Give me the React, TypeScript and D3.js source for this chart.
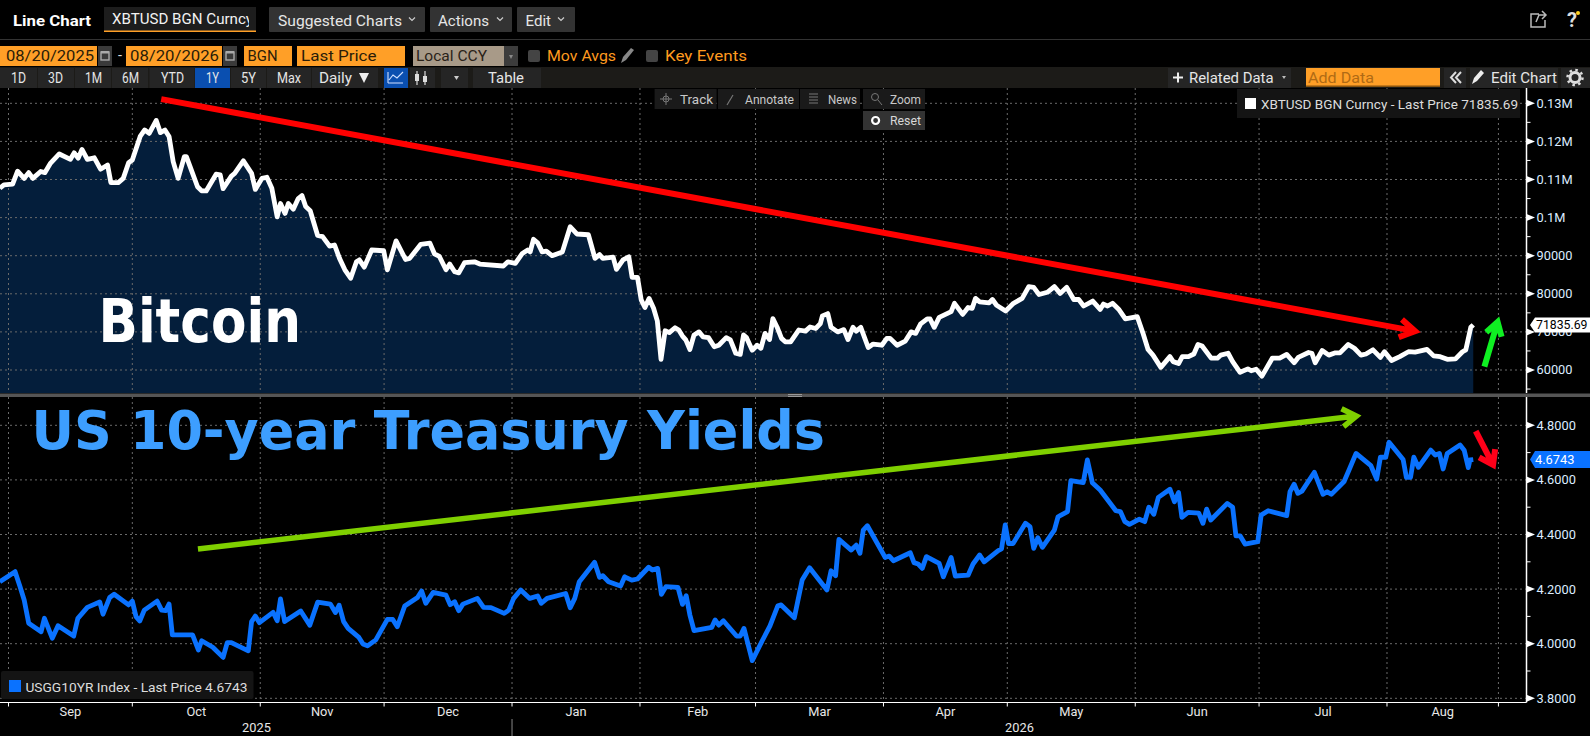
import React from 'react';
import * as d3 from 'd3';

// Days counted from 1 Sep 2025
const btcPoints: [number, number][] = [
  [-2.1,107.7],[-1.1,108.6],[1,108.8],[2.2,112.2],[3.8,110.3],[4.9,111.8],[5.9,110.3],[7.8,112.1],[8.8,111.8],[10.2,114.3],[12.3,116.7],[15,115.3],[15.9,117],[16.9,115.6],[17.8,117.9],[19.1,115.3],[20.8,115.7],[22.3,112.7],[24,113.8],[24.8,109.2],[26.6,109.2],[27.8,110.3],[29.1,114.4],[30,115.1],[31.9,121.3],[33,123],[34.1,122.1],[35.8,125.5],[36.8,122.3],[37.9,123],[38.9,121.3],[39.9,114.7],[41.1,110.3],[42.6,116],[43.1,116],[44.6,111.6],[45.8,108.1],[46.8,107],[47.9,107],[50.3,111.4],[51.3,111.2],[52,107.6],[54,110.9],[54.8,111.6],[56.9,114.9],[58.9,111.6],[59.8,107.4],[61.4,110.3],[62.6,110.6],[63.8,107.7],[65.1,100.2],[65.9,103.7],[67,101.1],[67.8,103.7],[69,102.2],[70.2,105],[71.1,105.8],[72,102.9],[73.1,101.8],[74.9,95.3],[76.1,95],[77.8,92.5],[79,92.8],[80.2,89.3],[81.5,86.3],[82.9,84.1],[84.3,88.4],[85,88.9],[86.2,87],[88,91.5],[90.9,91.3],[91.8,86.3],[93.9,93.9],[96.2,89],[97.2,89.3],[99.9,93],[102.1,93.3],[103.2,90.5],[104.4,89.8],[106,86.3],[106.9,87.8],[108.1,85.8],[109.1,85.5],[110.5,88.2],[112.9,88.4],[114.2,87.8],[119.9,87.3],[121,88.4],[122.8,88],[124.5,90.6],[125.8,91.5],
  [126.4,91],[127.2,94.3],[128.2,93.4],[129.3,91],[130.3,91.2],[131.7,90],[134.2,91],[136.1,97.6],[137.7,95.7],[140.5,95.5],[142.1,89.3],[143.2,90.3],[144,89.3],[146.5,89.6],[147.3,86.4],[148.9,88.9],[150.3,89.7],[151.1,84.3],[152.4,84.3],[153.3,78.4],[154.2,76.4],[155.2,78.8],[156.3,76.2],[157.2,72.9],[158.1,62.8],[159.1,70.3],[160.1,69.8],[161.5,71.1],[162.4,70.5],[163.3,68.9],[164.1,67.9],[165.1,65.4],[166.1,69.2],[167.3,70],[168.3,68.7],[169.6,68.5],[171,66.1],[172.1,66.5],[173.9,68.5],[174.9,67.9],[176.2,64.4],[177.3,64.1],[178.1,69.2],[178.8,68.5],[180.2,65.2],[181.4,66.5],[182.3,65.7],[183.3,69.6],[184.4,68],[185.2,73.5],[186.2,71.3],[187.3,68.3],[188.2,67.4],[189.5,67.4],[191.5,70.5],[193.1,70.2],[194.2,71.3],[195.6,70.9],[196.7,72.2],[197.2,74.2],[198.5,74.8],[199.3,71.2],[200.9,70],[202.4,70.6],[203.4,68],[204.6,71.2],[205.4,70.2],[206.5,71.2],[208.3,65.9],[209.5,66.8],[211.6,66.5],[212.8,68.3],[213.6,68.3],[215.3,66.5],[217.3,67.6],[218.7,70],[219.8,69.6],[221,72.1],[222.6,73.4],[223.3,73.4],[224.3,71.2],[225.5,73.8],[228.4,75.3],[229.2,77.5],[231.2,74.6],[232.5,76.4],[233.5,76.2],[234.3,78.8],[235.3,77.9],[237.6,77.6],[238.4,78.5],[239.4,77],[241.6,75.5],[243.5,77.5],[245.6,78.8],[247.2,81.9],[248.4,81.7],[249.7,79.8],[251.7,80.4],[253.4,81.9],[254.8,80.1],
  [256.4,81.7],[258.1,78.5],[259.3,78.5],[260.5,76.8],[262.7,78.1],[264.5,75.9],[265.3,77.3],[266.3,76.8],[267.5,77.5],[269.1,75.8],[270.6,73.4],[273.5,74],[274.9,69.6],[276.1,65.4],[277.3,63.9],[279.2,60.7],[281.4,63.5],[282.2,62.2],[283.5,61.7],[284.4,63.5],[285.9,63.5],[287.2,64.2],[288.2,66.7],[289.2,66.3],[291.4,63.1],[292.9,63.1],[293.7,63.9],[295.5,64.4],[296.6,62.2],[298.4,59.4],[300.3,60.3],[301.1,59.8],[302.3,60.2],[303.7,58.4],[306.2,63.1],[308,63.1],[309.7,64.1],[311.5,61.9],[312.5,63.3],[315,64.6],[315.8,64.4],[316.6,61.9],[318.3,65.1],[319.9,63.9],[321.5,64.5],[322.6,64.5],[324.6,66.7],[326.1,65.7],[327.7,63.9],[328.9,64.2],[330.6,65.3],[332.4,63.3],[333.4,64.8],[335.1,62.5],[337.1,63.5],[339.2,64.8],[340.8,64.7],[343.7,65.4],[345.3,63.7],[346.9,63.5],[348.6,62.8],[350.6,62.9],[352.3,64.8],[353.1,65.3],[354.3,71.2],[354.9,71.83569],
];

const yieldPoints: [number, number][] = [
  [-2.1,4.227],[1.6,4.264],[2.8,4.209],[3.8,4.16],[4.9,4.075],[7.9,4.044],[8.7,4.093],[10.6,4.02],[12,4.066],[15.8,4.028],[16.8,4.093],[19.1,4.133],[22.1,4.153],[22.9,4.108],[24.5,4.169],[25.6,4.181],[29.1,4.142],[30,4.156],[30.9,4.099],[31.8,4.083],[32.9,4.123],[36,4.156],[37.1,4.123],[38.1,4.121],[38.9,4.145],[39.7,4.032],[44.6,4.032],[46,3.977],[46.8,4.011],[49.5,3.987],[52,3.95],[53,4.004],[54,4.004],[58.1,3.974],[58.9,4.081],[59.8,4.101],[60.8,4.077],[64.1,4.115],[65.1,4.084],[65.9,4.164],[66.9,4.081],[70.8,4.12],[73,4.068],[74.9,4.152],[78,4.145],[79.2,4.114],[80.1,4.141],[81.2,4.081],[82.3,4.056],[84.9,4.023],[85.9,3.999],[87,3.992],[89,4.014],[91.8,4.089],[93.1,4.089],[94.2,4.062],[96,4.138],[99.1,4.169],[100.1,4.193],[101.1,4.148],[102.9,4.188],[106,4.178],[107,4.143],[108.1,4.154],[109.1,4.121],[110.1,4.145],[113.6,4.166],[115.1,4.133],[116.9,4.132],[120.1,4.111],[121.2,4.123],[122.4,4.166],[124.1,4.197],[126.3,4.166],
  [128.2,4.175],[129.1,4.148],[130.5,4.166],[135,4.184],[136.1,4.132],[137.2,4.166],[138.3,4.227],[142,4.298],[143.2,4.243],[144,4.249],[145.4,4.227],[148.3,4.211],[149.3,4.245],[151,4.233],[152.4,4.237],[155.1,4.28],[156,4.27],[157.3,4.276],[158.2,4.181],[159.3,4.209],[162.2,4.206],[163.3,4.144],[164.2,4.176],[165.1,4.105],[166.1,4.048],[170.4,4.06],[171.2,4.087],[172.1,4.068],[173.2,4.084],[176.4,4.028],[177.3,4.028],[178.2,4.056],[180.2,3.938],[182.5,4.007],[184.5,4.065],[186.4,4.139],[187.2,4.142],[190.4,4.095],[192.3,4.233],[194.1,4.278],[198.3,4.197],[199.3,4.267],[200.4,4.249],[201.2,4.382],[204.2,4.343],[205.4,4.361],[206.3,4.331],[207.1,4.416],[208.1,4.432],[212.4,4.316],[213.4,4.321],[214.4,4.304],[218.5,4.333],[219.4,4.297],[220.4,4.292],[221.4,4.276],[222.4,4.319],[225.5,4.294],[226.5,4.245],[228.4,4.316],[229.4,4.248],[232.5,4.251],[233.7,4.292],[235.3,4.325],[236.4,4.3],[239.8,4.341],[240.6,4.347],[241.5,4.435],[242.3,4.367],[243.4,4.367],[246.4,4.441],[247.5,4.429],[248.4,4.349],[249.4,4.388],[250.5,4.353],[253.4,4.416],[254.3,4.465],[254.8,4.469],
  [256.6,4.484],[257.4,4.597],[260.4,4.59],[261.4,4.673],[262.6,4.59],[264.5,4.563],[268.3,4.487],[269.4,4.484],[270.5,4.447],[271.6,4.437],[274,4.456],[275.3,4.447],[276.3,4.5],[277.5,4.474],[278.6,4.536],[281.4,4.566],[282.5,4.52],[283.5,4.554],[284.3,4.463],[285.8,4.481],[288.4,4.478],[289.4,4.441],[290.3,4.493],[291.3,4.453],[295.3,4.514],[296.6,4.5],[297.4,4.395],[298.4,4.395],[299.6,4.365],[302.7,4.374],[303.5,4.471],[305.2,4.487],[309.7,4.469],[310.5,4.557],[311.5,4.584],[312.4,4.551],[313.4,4.559],[316.4,4.628],[318.5,4.547],[319.5,4.557],[320.5,4.547],[323.6,4.594],[324.8,4.636],[326.5,4.697],[330.1,4.652],[331.5,4.603],[332.4,4.683],[333.7,4.683],[334.5,4.738],[337.9,4.675],[338.7,4.609],[339.7,4.609],[340.5,4.683],[341.6,4.646],[344.6,4.709],[345.7,4.691],[346.7,4.697],[347.6,4.64],[348.6,4.697],[351.7,4.728],[352.7,4.709],[353.7,4.645],[354.1,4.673],[354.9,4.6743],
];

const monthStarts = [0, 30, 61, 91, 122, 153, 181, 212, 242, 273, 303, 334, 361];
const monthNames = ['Sep', 'Oct', 'Nov', 'Dec', 'Jan', 'Feb', 'Mar', 'Apr', 'May', 'Jun', 'Jul', 'Aug'];

const btcTicks = [130, 120, 110, 100, 90, 80, 70, 60];
const btcTickLabels = ['0.13M', '0.12M', '0.11M', '0.1M', '90000', '80000', '70000', '60000'];
const btcMinor = [125, 115, 105, 95, 85, 75, 65, 55];
const yieldTicks = [4.8, 4.6, 4.4, 4.2, 4.0, 3.8];
const yieldMinor = [4.7, 4.5, 4.3, 4.1, 3.9];

const rangeButtons: [string, number, number][] = [['1D', 11, 15], ['3D', 48, 15], ['1M', 85, 17], ['6M', 122, 17], ['YTD', 161, 23], ['1Y', 206, 13], ['5Y', 241, 15], ['Max', 277, 24]];

const UI = '"Liberation Sans Narrow", Roboto, sans-serif';

const W = 1590;
const H = 736;
const axisX = 1526.5;
const top = { y0: 88, y1: 393 };
const low = { y0: 397, y1: 702.5 };

const x = d3.scaleLinear().domain([-2.06, 367.8]).range([0, axisX]);
const yBtc = d3.scaleLinear().domain([60, 130]).range([370, 103.3]);
const yYield = d3.scaleLinear().domain([3.8, 4.8]).range([698.3, 425.3]);

const btcLine = d3.line<[number, number]>().x(d => x(d[0])).y(d => yBtc(d[1]));
const btcArea = d3.area<[number, number]>().x(d => x(d[0])).y0(top.y1).y1(d => yBtc(d[1]));
const yieldLine = d3.line<[number, number]>().x(d => x(d[0])).y(d => yYield(d[1]));

function T({ x, y, w, c = '#e6e6e6', s = 14.5, b = false, a = 'start', f = UI, children }: any) {
  return (
    <text x={x} y={y} dy="0.35em" fill={c} fontSize={s} fontWeight={b ? 700 : 400} fontFamily={f} textAnchor={a}
      textLength={w} lengthAdjust={w ? 'spacingAndGlyphs' : undefined}>{children}</text>
  );
}

function Arrow({ x1, y1, x2, y2, color, width, len, half }: any) {
  const ang = Math.atan2(y2 - y1, x2 - x1);
  const ux = Math.cos(ang), uy = Math.sin(ang);
  const wing = (sgn: number) => [x2 - ux * len - uy * half * sgn, y2 - uy * len + ux * half * sgn];
  const [ax, ay] = wing(1);
  const [bx, by] = wing(-1);
  return (
    <path d={`M${x1},${y1}L${x2},${y2}M${ax},${ay}L${x2},${y2}L${bx},${by}`} fill="none" stroke={color} strokeWidth={width} strokeLinejoin="miter" />
  );
}

function Chevron({ x, y }: any) {
  return <path d={`M${x - 3},${y - 1.5}L${x},${y + 1.5}L${x + 3},${y - 1.5}`} fill="none" stroke="#ccc" strokeWidth={1.2} />;
}

function Cal({ x }: any) {
  return (
    <g>
      <rect x={x} y={46} width={14} height={20} fill="#3a3a3a" />
      <rect x={x + 3} y={52} width={8} height={8} fill="none" stroke="#aaa" strokeWidth={1.4} />
      <rect x={x + 3} y={51} width={8} height={2.5} fill="#aaa" />
    </g>
  );
}

function Box({ x, y, w, h, fill = '#333' }: any) {
  return <rect x={x} y={y} width={w} height={h} fill={fill} rx={1} />;
}

export default function App() {
  const grid = '#6a6a6a';
  return (
    <svg width={W} height={H} viewBox={`0 0 ${W} ${H}`} style={{ position: 'absolute', left: 0, top: 0, background: '#000', display: 'block' }}>
      <defs>
        <clipPath id="tickerClip"><rect x={104} y={7} width={145} height={25} /></clipPath>
      </defs>

      {/* top toolbar */}
      <T x={13} y={21} w={78} b s={15} c="#fff">Line Chart</T>
      <rect x={104} y={7} width={152} height={25} fill="#1d1d1d" />
      <rect x={104} y={30.5} width={152} height={1.5} fill="#ff9f27" />
      <g clipPath="url(#tickerClip)">
        <T x={112} y={19} w={141} c="#f2f2f2">XBTUSD BGN Curncy</T>
      </g>
      <Box x={269} y={7} w={156} h={25} />
      <T x={278} y={20.5} w={124}>Suggested Charts</T>
      <Chevron x={412} y={19} />
      <Box x={430} y={7} w={82} h={25} />
      <T x={438} y={20.5} w={51}>Actions</T>
      <Chevron x={500} y={19} />
      <Box x={517} y={7} w={58} h={25} />
      <T x={525.5} y={20.5} w={25.5}>Edit</T>
      <Chevron x={561} y={19} />
      <path d="M1539,14L1531,14L1531,27L1545,27L1545,20M1536,22L1539,15L1546,15M1542,11L1546,15L1542,19" fill="none" stroke="#bbb" strokeWidth={1.5} />
      <T x={1572} y={20} a="middle" s={20} b c="#ddd">?</T>
      <circle cx={1578} cy={13} r={2} fill="#ffd21f" />
      <rect x={0} y={39} width={W} height={1} fill="#333" />

      {/* date row */}
      <rect x={0} y={46} width={97} height={20} fill="#ff9f27" />
      <T x={6} y={56} w={88} c="#2a1c08">08/20/2025</T>
      <Cal x={98} />
      <T x={120} y={55} a="middle" c="#ddd">-</T>
      <rect x={126} y={46} width={96} height={20} fill="#ff9f27" />
      <T x={130} y={56} w={89} c="#2a1c08">08/20/2026</T>
      <Cal x={223} />
      <rect x={244} y={46} width={48} height={20} fill="#ff9f27" />
      <T x={247.5} y={56} w={30} c="#2a1c08">BGN</T>
      <rect x={297} y={46} width={108} height={20} fill="#ff9f27" />
      <T x={301} y={56} w={75.5} c="#2a1c08">Last Price</T>
      <rect x={413} y={46} width={91} height={20} fill="#a89a88" />
      <T x={416} y={56} w={71} c="#2a2218">Local CCY</T>
      <rect x={504} y={46} width={14} height={20} fill="#3c3c3c" />
      <path d="M509,55L513,55L511,59Z" fill="#888" />
      <rect x={528} y={50} width={12} height={12} rx={2} fill="#444" />
      <T x={547} y={55.5} w={69} c="#ff9a1f">Mov Avgs</T>
      <path d="M621,63L623,57L631,48L634,50L626,60Z" fill="#888" />
      <rect x={646} y={50} width={12} height={12} rx={2} fill="#444" />
      <T x={665} y={55.5} w={82} c="#ff9a1f">Key Events</T>

      {/* range row */}
      <rect x={0} y={67} width={W} height={21} fill="#1c1b18" />
      {[[0, 37], [38, 36], [75, 36], [112, 36], [149.5, 45], [231, 35], [267, 44], [312, 66], [410, 25], [441, 27], [473, 68], [1168, 123], [1444, 22], [1470, 88], [1561, 29]].map(([bx, bw], i) => (
        <rect key={i} x={bx} y={68} width={bw} height={20} fill="#252525" />
      ))}
      <rect x={195} y={68} width={35} height={20} fill="#0a4fb0" />
      <rect x={384} y={68} width={24} height={20} fill="#0a4fb0" />
      <path d="M388,83L403,83M388,83L388,72M389,80L393,75L397,78L403,72" fill="none" stroke="#cfe0ff" strokeWidth={1.1} />
      <path d="M417,71V85M425,71V85" stroke="#ddd" strokeWidth={1.2} />
      <rect x={415} y={74} width={4} height={7} fill="#ddd" />
      <rect x={423} y={76} width={4} height={6} fill="#ddd" />
      <path d="M454,76L459,76L456.5,80Z" fill="#ccc" />
      {rangeButtons.map(([label, bx, bw]) => (
        <T key={label} x={bx} y={77.5} w={bw}>{label}</T>
      ))}
      <T x={319} y={77.5} w={33}>Daily</T>
      <path d="M359,73L369,73L364,83Z" fill="#eee" />
      <T x={488} y={77.5} w={36}>Table</T>
      <path d="M1178,72.5V82.5M1173,77.5H1183" stroke="#eee" strokeWidth={2} />
      <T x={1189} y={77.5} w={84.5}>Related Data</T>
      <path d="M1282,76L1286,76L1284,79Z" fill="#bbb" />
      <rect x={1306} y={68} width={134} height={18} fill="#ff9f27" />
      <rect x={1306} y={85.5} width={134} height={1.5} fill="#8a5510" />
      <T x={1308} y={77.5} w={66} c="#b06a14">Add Data</T>
      <path d="M1456,72L1451,77.5L1456,83M1461,72L1456,77.5L1461,83" fill="none" stroke="#ddd" strokeWidth={2} />
      <path d="M1472,84L1474,78L1481,70L1484,73L1477,81Z" fill="#eee" />
      <T x={1491} y={77.5} w={66}>Edit Chart</T>
      <circle cx={1575} cy={77.5} r={5} fill="none" stroke="#ddd" strokeWidth={3} />
      <circle cx={1575} cy={77.5} r={7.5} fill="none" stroke="#ddd" strokeWidth={2.5} strokeDasharray="2.5 3.4" />

      {/* upper pane */}
      <path d={btcArea(btcPoints)!} fill="#041e3b" />
      {btcTicks.map(v => (
        <line key={v} x1={0} x2={axisX} y1={yBtc(v)} y2={yBtc(v)} stroke={grid} strokeWidth={1} strokeDasharray="2 3" />
      ))}
      {monthStarts.map(d => (
        <line key={d} x1={x(d)} x2={x(d)} y1={top.y0} y2={top.y1} stroke={grid} strokeWidth={1} strokeDasharray="2 3" />
      ))}
      <path d={btcLine(btcPoints)!} fill="none" stroke="#fff" strokeWidth={4.8} strokeLinejoin="round" />
      <T x={98.5} y={321} w={202.5} s={60} b c="#fff" f='"DejaVu Sans", sans-serif'>Bitcoin</T>
      <Arrow x1={x(37)} y1={yBtc(131.1)} x2={x(340.8)} y2={yBtc(70.2)} color="#ff0000" width={6} len={15} half={9} />
      <Arrow x1={x(357.6)} y1={yBtc(60.9)} x2={x(360.8)} y2={yBtc(72.6)} color="#0ff022" width={6} len={13} half={8} />

      {/* track / zoom overlay buttons */}
      {[[654.6, 62], [718, 81], [800, 60], [863, 62]].map(([bx, bw], i) => (
        <rect key={i} x={bx} y={89} width={bw} height={20} fill="#1a1a1a" />
      ))}
      <rect x={863} y={111} width={62} height={19} fill="#333" />
      <path d="M666,93V105M660,99H672" stroke="#777" strokeWidth={1} />
      <circle cx={666} cy={99} r={3} fill="none" stroke="#777" />
      <T x={680} y={99.5} w={33} s={13} c="#c8c8c8">Track</T>
      <path d="M727,105L733,95" stroke="#777" strokeWidth={1.2} />
      <T x={745} y={99.5} w={49} s={13} c="#c8c8c8">Annotate</T>
      <path d="M809,94H818M809,97H818M809,100H818M809,103H818" stroke="#777" strokeWidth={1.2} />
      <T x={828} y={99.5} w={29} s={13} c="#c8c8c8">News</T>
      <circle cx={875} cy={97} r={3.5} fill="none" stroke="#777" />
      <path d="M878,100L882,105" stroke="#777" />
      <T x={890} y={99.5} w={31} s={13} c="#c8c8c8">Zoom</T>
      <circle cx={875.6} cy={120.5} r={3.5} fill="none" stroke="#fff" strokeWidth={2.2} />
      <T x={890} y={120.5} w={31} s={13} c="#d8d8d8">Reset</T>

      <rect x={1237} y={89} width={283} height={29} fill="#141414" />
      <rect x={1245} y={98} width={11} height={11} fill="#fff" />
      <T x={1261} y={104} w={257} s={13.5} c="#dcdcdc" f="Roboto, sans-serif">XBTUSD BGN Curncy - Last Price 71835.69</T>

      {/* divider */}
      <rect x={0} y={393.5} width={W} height={3.5} fill="#555" />
      <path d="M788,394.5H802M788,396.5H802" stroke="#aaa" strokeWidth={0.8} />

      {/* lower pane */}
      {yieldTicks.map(v => (
        <line key={v} x1={0} x2={axisX} y1={yYield(v)} y2={yYield(v)} stroke={grid} strokeWidth={1} strokeDasharray="2 3" />
      ))}
      {monthStarts.map(d => (
        <line key={d} x1={x(d)} x2={x(d)} y1={low.y0} y2={low.y1} stroke={grid} strokeWidth={1} strokeDasharray="2 3" />
      ))}
      <text x={31.5} y={449.3} fill="#3d9eff" fontSize={53} fontWeight={700} fontFamily='"DejaVu Sans", sans-serif' textLength={793.5} lengthAdjust="spacingAndGlyphs">US 10-year Treasury Yields</text>
      <path d={yieldLine(yieldPoints)!} fill="none" stroke="#0a72ff" strokeWidth={4.8} strokeLinejoin="round" />
      <Arrow x1={x(45.9)} y1={yYield(4.347)} x2={x(326.6)} y2={yYield(4.834)} color="#7fd000" width={5.5} len={14} half={9} />
      <Arrow x1={x(355.5)} y1={yYield(4.779)} x2={x(359.7)} y2={yYield(4.655)} color="#ff0019" width={6} len={13} half={9} />

      <rect x={1} y={671} width={252.5} height={28} fill="#141414" rx={2} />
      <rect x={9} y={680} width={12} height={12} fill="#0a72ff" />
      <T x={25.4} y={687} w={222} s={13.5} c="#dcdcdc" f="Roboto, sans-serif">USGG10YR Index - Last Price 4.6743</T>

      {/* right axes */}
      <line x1={axisX} x2={axisX} y1={top.y0} y2={top.y1} stroke="#fff" strokeWidth={1.5} />
      <line x1={axisX} x2={axisX} y1={low.y0} y2={low.y1} stroke="#fff" strokeWidth={1.5} />
      {btcMinor.map(v => (
        <line key={v} x1={axisX} x2={axisX + 4} y1={yBtc(v)} y2={yBtc(v)} stroke="#fff" />
      ))}
      {btcTicks.map((v, i) => (
        <g key={v}>
          <path d={`M${axisX},${yBtc(v) - 3.5}L${axisX + 8.5},${yBtc(v)}L${axisX},${yBtc(v) + 3.5}Z`} fill="#fff" />
          <T x={1536.5} y={yBtc(v)} s={12.8} c="#dcecff" f="Roboto, sans-serif">{btcTickLabels[i]}</T>
        </g>
      ))}
      {yieldMinor.map(v => (
        <line key={v} x1={axisX} x2={axisX + 4} y1={yYield(v)} y2={yYield(v)} stroke="#fff" />
      ))}
      {yieldTicks.map(v => (
        <g key={v}>
          <path d={`M${axisX},${yYield(v) - 3.5}L${axisX + 8.5},${yYield(v)}L${axisX},${yYield(v) + 3.5}Z`} fill="#fff" />
          <T x={1536.5} y={yYield(v)} s={12.8} c="#dcecff" f="Roboto, sans-serif">{v.toFixed(4)}</T>
        </g>
      ))}
      <path d={`M1530,${yBtc(71.83569)}L1535,${yBtc(71.83569) - 7.5}H1590V${yBtc(71.83569) + 7.5}H1535Z`} fill="#fff" />
      <T x={1536} y={yBtc(71.83569)} w={51.5} s={12.8} c="#000" f="Roboto, sans-serif">71835.69</T>
      <path d={`M1530,${yYield(4.6743)}L1535,${yYield(4.6743) - 8.5}H1590V${yYield(4.6743) + 8.5}H1535Z`} fill="#0a72ff" />
      <T x={1535} y={yYield(4.6743)} s={12.8} c="#fff" f="Roboto, sans-serif">4.6743</T>

      {/* time axis */}
      <line x1={0} x2={axisX} y1={low.y1} y2={low.y1} stroke="#fff" strokeWidth={1.2} />
      {monthStarts.map(d => (
        <line key={d} x1={x(d)} x2={x(d)} y1={low.y1} y2={low.y1 + 4} stroke="#fff" />
      ))}
      {monthNames.map((m, i) => (
        <T key={m} x={(x(monthStarts[i]) + x(monthStarts[i + 1])) / 2} y={712} a="middle" s={12.8} c="#e8e8e8" f="Roboto, sans-serif">{m}</T>
      ))}
      <T x={256.5} y={728} a="middle" s={12.8} c="#e8e8e8" f="Roboto, sans-serif">2025</T>
      <T x={1019.5} y={728} a="middle" s={12.8} c="#e8e8e8" f="Roboto, sans-serif">2026</T>
      <line x1={x(122)} x2={x(122)} y1={719} y2={736} stroke="#888" />
    </svg>
  );
}
